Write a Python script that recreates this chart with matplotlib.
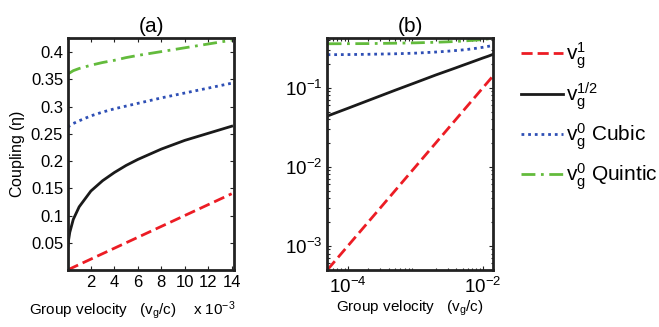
import matplotlib
matplotlib.use("Agg")
import matplotlib.pyplot as plt
from matplotlib.ticker import FuncFormatter, FixedLocator, LogLocator, NullFormatter

plt.rcParams["font.family"] = ["Liberation Sans", "DejaVu Sans"]
plt.rcParams["mathtext.fontset"] = "custom"
plt.rcParams["mathtext.rm"] = "Liberation Sans"
plt.rcParams["mathtext.it"] = "Liberation Sans"

# group velocity samples (v_g/c)
vg = [5e-5, 1e-4, 2e-4, 5e-4, 1e-3, 2e-3, 3e-3, 4e-3, 5e-3, 6e-3, 8e-3, 1e-2, 1.2e-2, 1.4e-2]

# coupling values
eta_lin = [5e-4, 1e-3, 2e-3, 5e-3, 0.01, 0.02, 0.03, 0.04, 0.05, 0.06, 0.08, 0.10, 0.12, 0.14]
eta_sqrt = [0.044, 0.055, 0.069, 0.093, 0.116, 0.145, 0.164, 0.179, 0.192, 0.203, 0.222, 0.238, 0.251, 0.264]
eta_cubic = [0.262, 0.263, 0.265, 0.269, 0.274, 0.283, 0.290, 0.296, 0.301, 0.306, 0.316, 0.325, 0.334, 0.343]
eta_quintic = [0.360, 0.361, 0.362, 0.366, 0.370, 0.376, 0.381, 0.385, 0.390, 0.394, 0.401, 0.408, 0.415, 0.422]

labels = [r"$\mathregular{v_g^1}$", r"$\mathregular{v_g^{1/2}}$",
          r"$\mathregular{v_g^0}$ Cubic", r"$\mathregular{v_g^0}$ Quintic"]

a_yticks = [0.05, 0.1, 0.15, 0.2, 0.25, 0.3, 0.35, 0.4]
a_yticklabels = ["0.05", "0.1", "0.15", "0.2", "0.25", "0.3", "0.35", "0.4"]
a_xticks = [2e-3, 4e-3, 6e-3, 8e-3, 10e-3, 12e-3, 14e-3]

red = "#ec1c24"
blue = "#2e4fb5"
green = "#63bb3c"


def draw_lines(ax):
    h1, = ax.plot(vg, eta_lin, color=red, lw=2.0, dashes=(4, 1.8))
    h2, = ax.plot(vg, eta_sqrt, color="#1a1a1a", lw=2.0)
    h3, = ax.plot(vg, eta_cubic, color=blue, lw=2.0, dashes=(1, 1.4))
    h4, = ax.plot(vg, eta_quintic, color=green, lw=2.0, dashes=(5, 2, 1, 2))
    return [h1, h2, h3, h4]


def style(ax):
    for s in ax.spines.values():
        s.set_linewidth(2.0)
        s.set_color("#222222")
    ax.tick_params(which="both", direction="in", top=True, right=True,
                   labelsize=12, width=0.8, color="#222222")
    ax.tick_params(which="major", length=3)
    ax.tick_params(which="minor", length=1.8)


fig = plt.figure(figsize=(6.59, 3.27), dpi=100)
ax1 = fig.add_axes([0.1032, 0.1743, 0.2519, 0.7095])
ax2 = fig.add_axes([0.4962, 0.1743, 0.2519, 0.7095])

# (a) linear axes
handles = draw_lines(ax1)
ax1.set_xlim(5e-5, 0.0142)
ax1.set_ylim(0, 0.426)
ax1.xaxis.set_major_locator(FixedLocator(a_xticks))
ax1.xaxis.set_major_formatter(FuncFormatter(lambda x, _: f"{x * 1e3:g}"))
ax1.set_yticks(a_yticks)
ax1.set_yticklabels(a_yticklabels)
style(ax1)
ax1.set_title("(a)", fontsize=15, pad=4)
ax1.set_ylabel(r"Coupling ($\mathregular{\eta}$)", fontsize=11.5, labelpad=3)
ax1.set_xlabel(r"Group velocity   ($\mathregular{v_g}$/c)", fontsize=11)
ax1.xaxis.set_label_coords(0.21, -0.135)
ax1.text(0.75, -0.205, r"x $\mathregular{10^{-3}}$", transform=ax1.transAxes,
         fontsize=11, ha="left", va="bottom")

# (b) log-log axes
draw_lines(ax2)
ax2.set_xscale("log")
ax2.set_yscale("log")
ax2.set_xlim(4.9e-5, 0.0141)
ax2.set_ylim(4.95e-4, 0.426)
ax2.xaxis.set_major_locator(FixedLocator([1e-4, 1e-2]))
ax2.xaxis.set_minor_locator(LogLocator(base=10, subs=range(2, 10)))
ax2.xaxis.set_minor_formatter(NullFormatter())
ax2.yaxis.set_major_locator(FixedLocator([1e-3, 1e-2, 1e-1]))
ax2.yaxis.set_minor_locator(LogLocator(base=10, subs=range(2, 10)))
ax2.yaxis.set_minor_formatter(NullFormatter())
style(ax2)
ax2.tick_params(which="major", labelsize=13.5)
ax2.tick_params(axis="x", which="major", pad=5)
ax2.set_title("(b)", fontsize=15, pad=4)
ax2.set_xlabel(r"Group velocity   ($\mathregular{v_g}$/c)", fontsize=11, labelpad=1)

fig.legend(handles, labels, loc="upper left", bbox_to_anchor=(0.762, 0.935),
           frameon=False, fontsize=15, handlelength=2.0, handletextpad=0.15,
           labelspacing=0.45)

fig.savefig("out.png", dpi=100)
